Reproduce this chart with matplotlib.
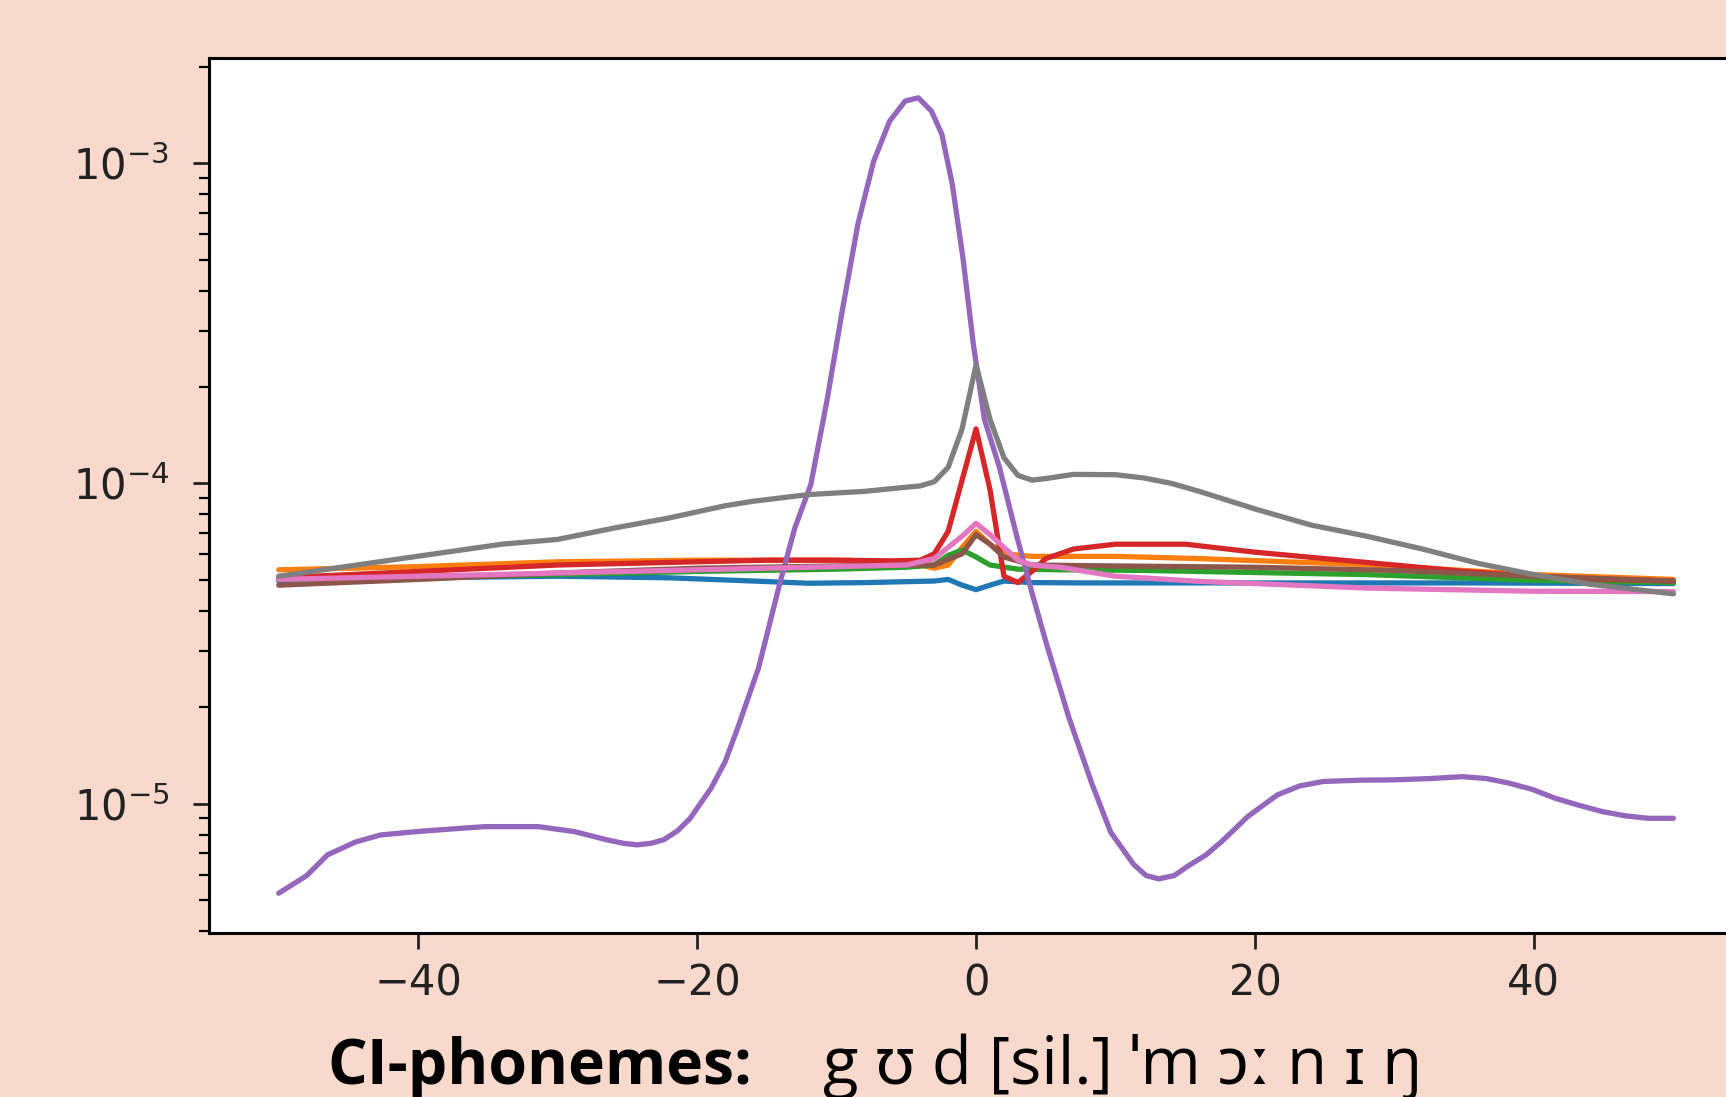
import numpy as np
import matplotlib
matplotlib.use("Agg")
import matplotlib.pyplot as plt

# values as log10(y)
purple_x = [-50, -48, -46.5, -44.5, -42.7, -40.1, -37.5, -35.2, -31.4, -28.8, -26.5, -25.3,
            -24.3, -23.3, -22.4, -21.4, -20.5, -19.0, -18.0, -17.1, -15.6, -14.1, -13.0,
            -11.85, -10.7, -9.6, -8.47, -7.34, -6.2, -5.08, -4.14, -3.2, -2.45, -1.7, -0.94,
            -0.19, 0.6, 1.69, 2.89, 4.0, 5.04, 6.67, 8.34, 9.66, 11.3, 12.2, 13.1, 14.2,
            15.24, 16.5, 17.6, 19.5, 21.6, 23.2, 24.9, 27.5, 29.9, 32.5, 34.9, 36.6, 38.2,
            39.9, 41.5, 43.2, 44.9, 46.5, 48.2, 50]
purple_log = [-5.28, -5.225, -5.16, -5.12, -5.098, -5.0875, -5.079, -5.072, -5.072, -5.0875,
              -5.113, -5.124, -5.129, -5.124, -5.113, -5.085, -5.046, -4.952, -4.87, -4.765,
              -4.577, -4.317, -4.14, -4.004, -3.744, -3.4625, -3.19, -2.994, -2.869, -2.806,
              -2.796, -2.8375, -2.91, -3.067, -3.296, -3.567, -3.80, -3.952, -4.16, -4.34,
              -4.50, -4.733, -4.942, -5.09, -5.19, -5.225, -5.235, -5.225, -5.194, -5.16,
              -5.119, -5.04, -4.973, -4.945, -4.931, -4.927, -4.926, -4.922, -4.916, -4.922,
              -4.936, -4.956, -4.983, -5.005, -5.025, -5.038, -5.046, -5.046]

gray_x = [-50, -46, -42, -38, -34, -30, -26, -22, -18, -16, -12, -8, -5, -4, -3, -2, -1, 0,
          1, 2, 3, 4, 5, 7, 10, 12, 14, 16, 20, 24, 28, 32, 36, 40, 44, 48, 50]
gray_log = [-4.29, -4.265, -4.24, -4.215, -4.19, -4.175, -4.14, -4.108, -4.07, -4.056, -4.035,
            -4.025, -4.012, -4.008, -3.995, -3.95, -3.83, -3.63, -3.80, -3.92, -3.975, -3.99,
            -3.985, -3.972, -3.973, -3.983, -4.0, -4.025, -4.08, -4.13, -4.165, -4.205, -4.25,
            -4.285, -4.315, -4.335, -4.345]

red_x = [-50, -45, -40, -35, -30, -25, -20, -15, -10, -6, -4, -3, -2, -1, 0, 1, 2, 3, 4, 5,
         7, 10, 15, 20, 25, 30, 35, 40, 45, 50]
red_log = [-4.295, -4.285, -4.275, -4.265, -4.255, -4.25, -4.245, -4.24, -4.24, -4.242, -4.24,
           -4.22, -4.15, -3.99, -3.83, -4.02, -4.29, -4.31, -4.275, -4.235, -4.205, -4.19,
           -4.19, -4.215, -4.235, -4.255, -4.275, -4.29, -4.30, -4.305]

pink_x = [-50, -40, -30, -20, -10, -5, -3, -2, -1, 0, 1, 2, 3, 4, 6, 10, 16, 28, 40, 50]
pink_log = [-4.30, -4.29, -4.28, -4.27, -4.26, -4.255, -4.235, -4.20, -4.165, -4.125, -4.16,
            -4.20, -4.24, -4.255, -4.262, -4.29, -4.306, -4.327, -4.337, -4.338]

orange_x = [-50, -40, -30, -20, -10, -5, -3, -2, -1, 0, 1, 2, 4, 10, 16, 28, 40, 50]
orange_log = [-4.27, -4.26, -4.245, -4.24, -4.24, -4.245, -4.265, -4.255, -4.20, -4.15, -4.19,
              -4.22, -4.228, -4.228, -4.235, -4.254, -4.285, -4.30]

green_x = [-50, -30, -20, -10, -5, -3, -2, -1, 0, 1, 3, 6, 12, 28, 40, 50]
green_log = [-4.30, -4.285, -4.275, -4.268, -4.262, -4.255, -4.225, -4.208, -4.23, -4.255,
             -4.268, -4.27, -4.272, -4.285, -4.303, -4.31]

blue_x = [-50, -40, -30, -22, -16, -12, -8, -3, -2, -1, 0, 1, 2, 4, 8, 20, 35, 50]
blue_log = [-4.305, -4.295, -4.29, -4.295, -4.305, -4.312, -4.31, -4.305, -4.30, -4.318,
            -4.332, -4.318, -4.305, -4.31, -4.311, -4.311, -4.311, -4.313]

brown_x = [-50, -40, -30, -20, -10, -3, -1, 0, 1, 2, 4, 10, 20, 30, 40, 50]
brown_log = [-4.318, -4.30, -4.28, -4.265, -4.258, -4.255, -4.22, -4.16, -4.19, -4.23, -4.255,
             -4.258, -4.262, -4.272, -4.29, -4.305]

series = [
    (blue_x, blue_log, "tab:blue"),
    (orange_x, orange_log, "tab:orange"),
    (green_x, green_log, "tab:green"),
    (red_x, red_log, "tab:red"),
    (purple_x, purple_log, "tab:purple"),
    (brown_x, brown_log, "tab:brown"),
    (pink_x, pink_log, "tab:pink"),
    (gray_x, gray_log, "tab:gray"),
]

label_title = "CI-phonemes:"
label_ipa = "g ʊ d [sil.] ˈm ɔː n ɪ ŋ"

bg = "#F8D9CC"

fig = plt.figure(figsize=(17.26, 10.97), dpi=100, facecolor=bg)
ax = fig.add_axes([0.1211, 0.1495, 0.8888, 0.7976])
ax.set_facecolor("white")

for xs, ls, col in series:
    ax.plot(xs, 10 ** np.array(ls), color=col, lw=3.8,
            solid_joinstyle="round", solid_capstyle="round")

ax.set_yscale("log")
ax.set_xticks([-40, -20, 0, 20, 40])

for sp in ax.spines.values():
    sp.set_linewidth(2.2)
ax.tick_params(which="major", length=11.5, width=2.0, labelsize=30, colors="#222222")
ax.tick_params(which="minor", length=7, width=1.6)
ax.tick_params(axis="x", pad=10)
ax.tick_params(axis="y", pad=17)

fig.text(327 / 1726, 1 - 1084 / 1097, label_title, fontsize=45, fontweight="bold",
         family=["Open Sans", "Noto Sans", "DejaVu Sans"], va="baseline", ha="left")
fig.text(823 / 1726, 1 - 1084 / 1097, label_ipa, fontsize=47,
         family=["Open Sans", "Noto Sans", "DejaVu Sans"], va="baseline", ha="left")

fig.savefig("out.png", dpi=100, facecolor=bg)
